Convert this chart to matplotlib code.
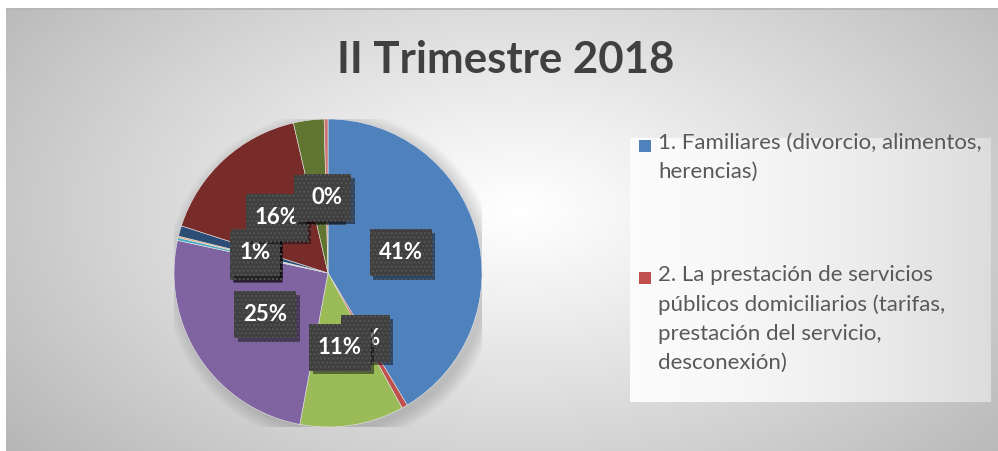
import numpy as np
import matplotlib
matplotlib.use("Agg")
import matplotlib.pyplot as plt
import matplotlib.patheffects as pe
from matplotlib.patches import Rectangle

# ---------------- data ----------------
title = "II Trimestre 2018"
categories = [
    "1. Familiares (divorcio, alimentos,\nherencias)",
    "2. La prestación de servicios\npúblicos domiciliarios (tarifas,\nprestación del servicio,\ndesconexión)",
    "Categoría 3", "Categoría 4", "Categoría 5", "Categoría 6",
    "Categoría 7", "Categoría 8", "Categoría 9", "Categoría 10",
]
values = [41.3, 0.6, 10.9, 25.4, 0.3, 0.15, 1.1, 16.4, 3.2, 0.4]
colors = ["#4F81BD", "#C0504D", "#9BBB59", "#8064A2", "#4BACC6",
          "#F79646", "#2C4D75", "#772C2A", "#5F7530", "#CD7371"]
legend_shown = 2

W, H = 998, 451
fig = plt.figure(figsize=(W / 100, H / 100), dpi=100)
fig.patch.set_facecolor("white")

def fx(px):
    return px / W

def fy(py):
    return 1 - py / H

# ---------------- background gradient ----------------
bg = fig.add_axes([fx(6), 0, 1 - fx(6), fy(8)])
bg.set_axis_off()
gx = np.linspace(6, W, 400)
gy = np.linspace(8, H, 200)
X, Y = np.meshgrid(gx, gy)
d = np.sqrt(((X - 520) / 560) ** 2 + ((Y - 210) / 330) ** 2)
v = 1.0 - 0.24 * np.clip(d, 0, 1.2) ** 1.1
img = np.dstack([v, v, v])
bg.imshow(img, extent=[0, 1, 0, 1], aspect="auto", origin="upper")
bg.set_xlim(0, 1)
bg.set_ylim(0, 1)
bg.plot([0, 1], [0.997, 0.997], color="#B5B5B5", lw=1.2, transform=bg.transAxes)

# ---------------- legend box ----------------
lg = fig.add_axes([fx(630), fy(402), fx(991) - fx(630), fy(138) - fy(402)])
lg.set_axis_off()
lx = np.linspace(0, 1, 300)
lv = 0.985 - 0.12 * lx ** 1.6
limg = np.dstack([np.tile(lv, (10, 1))] * 3)
lg.imshow(limg, extent=[0, 1, 0, 1], aspect="auto")
lg.set_xlim(0, 1)
lg.set_ylim(0, 1)

legend_y = [146, 278]
for i in range(legend_shown):
    fig.patches.append(Rectangle((fx(639), fy(legend_y[i] + 6)), fx(12), 12 / H,
                                 transform=fig.transFigure, facecolor=colors[i],
                                 edgecolor="none", zorder=5))
    fig.text(fx(658), fy(legend_y[i] - 13), categories[i], ha="left", va="top",
             fontsize=16, family="Lato", color="#595959", linespacing=1.57,
             zorder=6)

# ---------------- title ----------------
fig.text(fx(506), fy(60), title, ha="center", va="center", fontsize=31.5,
         family="Lato", fontweight="bold", color="#404040")

# ---------------- pie ----------------
cx, cy, R = 328, 273, 154
ax = fig.add_axes([fx(cx - R), fy(cy + R), 2 * R / W, 2 * R / H])
ax.set_axis_off()

# soft shadow
for k in range(8):
    sh = plt.Circle((0.03, -0.03), 1.0 + 0.012 * k, color="black",
                    alpha=0.018, lw=0)
    ax.add_patch(sh)

wedges, texts, autotexts = ax.pie(
    values, colors=colors, startangle=90, counterclock=False,
    autopct=lambda p: f"{p:.0f}%", pctdistance=0.49,
    wedgeprops=dict(linewidth=0.4, edgecolor="#e8e8e8"),
    textprops=dict(color="white", fontsize=16, fontweight="bold", family="Lato"),
)
for t in autotexts:
    t.set_bbox(dict(boxstyle="square,pad=0.4", facecolor="#3F3F3F",
                    edgecolor="#545454", linewidth=0, hatch="....",
                    mutation_aspect=1.45))
    t.get_bbox_patch().set_path_effects([
        pe.SimplePatchShadow(offset=(2.5, -2.5), shadow_rgbFace="black", alpha=0.45),
        pe.Normal()])
ax.set_xlim(-1, 1)
ax.set_ylim(-1, 1)
ax.set_aspect("auto")

fig.savefig("out.png", dpi=100)
